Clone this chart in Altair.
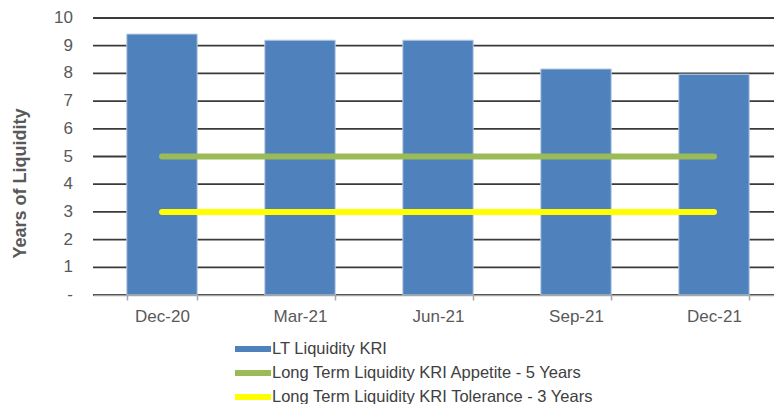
import altair as alt
import pandas as pd

categories = ["Dec-20", "Mar-21", "Jun-21", "Sep-21", "Dec-21"]
kri_values = [9.42, 9.2, 9.2, 8.16, 7.97]
appetite = [5, 5, 5, 5, 5]
tolerance = [3, 3, 3, 3, 3]
y_ticks = [0, 1, 2, 3, 4, 5, 6, 7, 8, 9, 10]
y_tick_labels = ["-", "1", "2", "3", "4", "5", "6", "7", "8", "9", "10"]

s_kri = "LT Liquidity KRI"
s_app = "Long Term Liquidity KRI Appetite - 5 Years"
s_tol = "Long Term Liquidity KRI Tolerance - 3 Years"

bars_df = pd.DataFrame({"cat": categories, "value": kri_values, "series": s_kri})
lines_df = pd.concat([
    pd.DataFrame({"cat": categories, "value": appetite, "series": s_app}),
    pd.DataFrame({"cat": categories, "value": tolerance, "series": s_tol}),
])
ticks_df = pd.DataFrame({"value": y_ticks, "label": y_tick_labels})

color_scale = alt.Scale(domain=[s_kri, s_app, s_tol], range=["#4F81BD", "#9BBB59", "#FFFF00"])

x_axis = alt.Axis(labelAngle=0, labelFontSize=17, labelColor="#595959",
                  labelFont="Liberation Sans", labelPadding=8,
                  domainColor="#a6a6a6", domainWidth=1.5,
                  tickBand="extent", tickColor="#a6a6a6", tickSize=5,
                  tickWidth=1.5, grid=False, zindex=1)
x_enc = alt.X("cat:N", sort=categories, title=None,
              scale=alt.Scale(paddingInner=0.49, paddingOuter=0.245, range=[0, 690]),
              axis=x_axis)

y_axis = alt.Axis(labels=False, domain=False, ticks=False, grid=False,
                  titleFontSize=18, titleFont="Liberation Sans", titleColor="#595959",
                  titleFontWeight="bold", titleAngle=-90, titleX=-73, titleY=165,
                  titleAlign="center", titleBaseline="middle")
y_scale = alt.Scale(domain=[0, 10], nice=False)
y_enc = alt.Y("value:Q", title="Years of Liquidity", scale=y_scale, axis=y_axis)

legend = alt.Legend(title=None, orient="none", legendX=149, legendY=320,
                    direction="vertical", symbolType="M-2.25,0H2.25", symbolSize=256,
                    symbolStrokeWidth=6, labelFontSize=16.5, labelFont="Liberation Sans",
                    labelColor="#404040", labelOffset=8, rowPadding=0, labelLimit=600)

grid = alt.Chart(ticks_df).mark_rule(color="#3a3a3a", strokeWidth=1.8).encode(
    y=y_enc, x=alt.value(0), x2=alt.value(690),
)
tick_text = alt.Chart(ticks_df).mark_text(
    align="right", baseline="middle", dx=-20, fontSize=17,
    font="Liberation Sans", color="#595959",
).encode(y=y_enc, x=alt.value(0), text="label:N")

bars = alt.Chart(bars_df).mark_bar(stroke="#b8cce4", strokeWidth=1, opacity=1).encode(
    x=x_enc, y=y_enc,
    color=alt.Color("series:N", scale=color_scale, legend=legend),
)
lines = alt.Chart(lines_df).mark_line(strokeWidth=6, strokeCap="round", opacity=1).encode(
    x=x_enc, y=y_enc,
    color=alt.Color("series:N", scale=color_scale, legend=legend),
    detail="series:N",
)

chart = alt.layer(grid, bars, lines, tick_text).properties(
    width=681, height=277,
    background="white",
    autosize=alt.AutoSizeParams(type="none"),
    padding={"left": 85, "top": 10, "right": 0, "bottom": 109},
).configure_view(stroke=None)

chart.save("out.html", embed_options={"renderer": "svg", "actions": False})
